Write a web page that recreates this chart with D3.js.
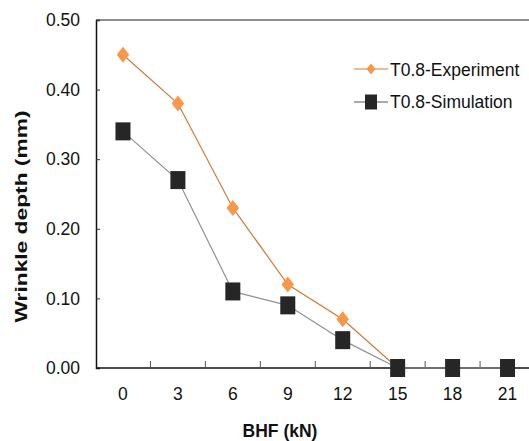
<!DOCTYPE html>
<html><head><meta charset="utf-8">
<script src="https://cdn.jsdelivr.net/npm/d3@7"></script>
<style>body{margin:0;background:#fff}svg{display:block}text{font-family:"Liberation Sans",Arial,sans-serif}</style>
</head><body><svg id="c" width="529" height="441"></svg>
<script>
const categories = ["0","3","6","9","12","15","18","21"];
const experiment = [0.45, 0.38, 0.23, 0.12, 0.07, 0.00];
const simulation = [0.34, 0.27, 0.11, 0.09, 0.04, 0.00, 0.00, 0.00];
const yTicks = [0, 0.1, 0.2, 0.3, 0.4, 0.5];
const seriesNames = ["T0.8-Experiment", "T0.8-Simulation"];

const svg = d3.select("#c");
const L = 96, T = 20, B = 368, R = 535;
const x = d3.scaleBand().domain(categories).range([95.5, 535]).padding(0);
const y = d3.scaleLinear().domain([0, 0.5]).range([B, T]);

// top border
svg.append("line").attr("x1", L).attr("x2", 529).attr("y1", T).attr("y2", T)
  .attr("stroke", "#6a6a6a").attr("stroke-width", 1.6);

// y axis
const ya = svg.append("g").attr("transform", `translate(${L},0)`)
  .call(d3.axisLeft(y).tickValues(yTicks).tickFormat(d3.format(".2f")).tickSize(-4).tickPadding(16));
ya.select(".domain").attr("stroke", "#111").attr("stroke-width", 1.5);
ya.selectAll(".tick line").attr("stroke", "#333");
ya.selectAll(".tick text").attr("font-size", 17.5).attr("fill", "#111")
  .attr("font-family", "'Liberation Sans',Arial,sans-serif");

// x axis
const xa = svg.append("g").attr("transform", `translate(0,${B})`)
  .call(d3.axisBottom(x).tickSize(0).tickPadding(20));
xa.select(".domain").remove();
xa.selectAll(".tick text").attr("font-size", 17.5).attr("fill", "#111")
  .attr("font-family", "'Liberation Sans',Arial,sans-serif");
svg.append("line").attr("x1", L).attr("x2", 529).attr("y1", B).attr("y2", B)
  .attr("stroke", "#111").attr("stroke-width", 1.6);
// inner tick marks at category boundaries
svg.append("g").selectAll("line").data(categories.slice(1)).join("line")
  .attr("x1", d => x(d)).attr("x2", d => x(d)).attr("y1", B).attr("y2", B - 7)
  .attr("stroke", "#555").attr("stroke-width", 1);

const cx = (d, i) => x(categories[i]) + x.bandwidth() / 2;
const line = d3.line().x((d, i) => cx(d, i)).y(d => y(d));
const diamond = (w, h) => `M0,${-h/2}L${w/2},0L0,${h/2}L${-w/2},0Z`;

// experiment
svg.append("path").datum(experiment).attr("d", line).attr("fill", "none")
  .attr("stroke", "#D07A35").attr("stroke-width", 1.2);
svg.append("g").selectAll("path").data(experiment).join("path")
  .attr("transform", (d, i) => `translate(${cx(d, i)},${y(d)})`)
  .attr("d", diamond(12.5, 16)).attr("fill", "#F89748");

// simulation
svg.append("path").datum(simulation).attr("d", line).attr("fill", "none")
  .attr("stroke", "#8f8f8f").attr("stroke-width", 1.2);
svg.append("g").selectAll("rect").data(simulation).join("rect")
  .attr("x", (d, i) => cx(d, i) - 7.5).attr("y", d => y(d) - 9)
  .attr("width", 15).attr("height", 18).attr("fill", "#262626");

// legend
const lg = svg.append("g");
lg.append("line").attr("x1", 354).attr("x2", 388).attr("y1", 69).attr("y2", 69)
  .attr("stroke", "#D07A35").attr("stroke-width", 1.2);
lg.append("path").attr("transform", "translate(371,69)").attr("d", diamond(9, 11)).attr("fill", "#F89748");
lg.append("text").attr("x", 390).attr("y", 75.5).attr("font-size", 17.5).attr("fill", "#111").text(seriesNames[0]);
lg.append("line").attr("x1", 354).attr("x2", 388).attr("y1", 102).attr("y2", 102)
  .attr("stroke", "#555").attr("stroke-width", 1.2);
lg.append("rect").attr("x", 365).attr("y", 94.5).attr("width", 12).attr("height", 15).attr("fill", "#262626");
lg.append("text").attr("x", 390).attr("y", 108).attr("font-size", 17.5).attr("fill", "#111").text(seriesNames[1]);

// axis titles
svg.append("text").attr("transform", "translate(27,216.5) rotate(-90)")
  .attr("text-anchor", "middle").attr("font-size", 17).attr("font-weight", "bold")
  .attr("font-family", "'DejaVu Sans',Verdana,sans-serif")
  .attr("textLength", 212).attr("lengthAdjust", "spacingAndGlyphs")
  .attr("fill", "#111").text("Wrinkle depth (mm)");
svg.append("text").attr("x", 280).attr("y", 437).attr("text-anchor", "middle")
  .attr("font-size", 17.5).attr("font-weight", "bold").attr("fill", "#111").text("BHF (kN)");
</script></body></html>
